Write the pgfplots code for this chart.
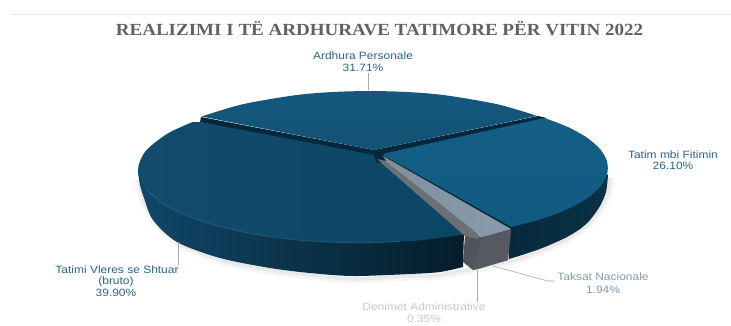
\documentclass[border=0pt]{standalone}
\usepackage{pgfplots}
\pgfplotsset{compat=1.18}
\usepackage{fontspec}
\setmainfont{Liberation Sans}
\newfontfamily\titlefont{Liberation Serif}
\definecolor{band}{HTML}{07283C}
\definecolor{labelblue}{HTML}{2A6485}
\definecolor{labelgrey}{HTML}{8499AD}
\definecolor{labelpale}{HTML}{C6C8CB}
\definecolor{leader}{HTML}{A8A8A8}
\definecolor{sideRa}{HTML}{07293C}
\definecolor{sideRb}{HTML}{0A3148}
\definecolor{sideLa}{HTML}{104767}
\definecolor{sideLb}{HTML}{06293D}
\definecolor{sideLc}{HTML}{041D2B}
\definecolor{topA}{HTML}{14587E}
\definecolor{topB}{HTML}{135274}
\definecolor{rightA}{HTML}{135F87}
\definecolor{rightB}{HTML}{115A80}
\definecolor{leftA}{HTML}{114B6D}
\definecolor{leftB}{HTML}{0B4666}
\definecolor{greyA}{HTML}{51545B}
\definecolor{greyB}{HTML}{565960}
\definecolor{greyC}{HTML}{6B6F76}
\definecolor{greyD}{HTML}{7F8FA0}
\definecolor{greyE}{HTML}{8A9BAC}
\definecolor{greyF}{HTML}{A3AEB8}
\newcommand{\lab}[4]{\node[text=#1,inner sep=0pt,font=\fontsize{10.6}{12}\selectfont] at (axis cs:#2,#3) {\scalebox{1.13}[1]{#4}};}
\begin{document}
\begin{tikzpicture}
\path[use as bounding box] (0,0) rectangle (731pt,325pt);
\begin{axis}[
  at={(0,0)}, anchor=south west,
  scale only axis, width=731pt, height=325pt,
  xmin=0, xmax=731, ymin=0, ymax=325, y dir=reverse,
  axis lines=none, clip=false, no markers,
]
% page rule
\addplot[color=black!9, line width=0.7pt] coordinates {(11,14.5) (731,14.5)};

% soft shadow round the base of the pie
\addplot[smooth, draw=black, opacity=0.035, line width=7pt] coordinates {
  (137,180) (146,207) (160,228) (183,246) (220,261) (270,271) (310,276) (353,280)
  (410,277) (440,276) (510,262) (537,253) (567,240) (590,223) (606,200) (612,178)};
\addplot[smooth, draw=black, opacity=0.05, line width=3.5pt] coordinates {
  (139,180) (146,205) (160,227) (183,245) (220,260) (270,270) (310,275) (353,279)
  (410,276) (440,275) (510,261) (537,252) (567,239) (590,222) (606,198) (610,178)};

% gaps between the slices
\addplot[fill=band, draw=none] coordinates {
  (201,117) (374,150) (538,116) (547,118) (383,155) (382,160) (375,160) (200,122)} -- cycle;

% sides of the slices
\addplot[smooth, draw=none, left color=sideRa, right color=sideRb] coordinates {
  (608,175) (606,192) (600,206) (590,220) (580,229) (567,237) (552,244) (537,250) (522,255) (509,259)}
  -- (axis cs:509,226) -- (axis cs:600,170) -- cycle;
\addplot[smooth, draw=none, left color=sideLa, middle color=sideLb, right color=sideLc] coordinates {
  (138,172) (140,185) (144,198) (153,220) (177,242) (220,258) (270,268) (310,273) (353,276)
  (410,274) (440,272) (463,267)}
  -- (axis cs:464,232) -- (axis cs:150,165) -- cycle;

% upper faces
\addplot[smooth, draw=none, top color=topA, bottom color=topB] coordinates {
  (201.6,116.5) (242,104.4) (293.7,95.4) (331.2,92.1) (370,91) (408.8,92.1) (446.3,95.4) (498,104.4) (537,115.9)}
  -- (axis cs:374,150) -- cycle;
\addplot[smooth, draw=none, top color=rightA, bottom color=rightB] coordinates {
  (544.6,118) (567.1,126.7) (586.8,137.5) (600.3,149.4) (607.1,161.7) (607.1,174.3)
  (600.3,186.6) (586.8,198.5) (567.1,209.3) (541.8,218.9) (509.9,227.3)}
  -- (axis cs:382,154) -- cycle;
\addplot[smooth, draw=none, left color=leftA, right color=leftB] coordinates {
  (464.1,234.5) (417.5,240.5) (360,243) (302.5,240.5) (249,233.2) (203,221.6) (167.7,206.5)
  (145.6,188.9) (138,170) (145.6,151.1) (167.7,133.5) (192.4,122.1)}
  -- (axis cs:200,122) -- (axis cs:374,155) -- (axis cs:376,158) -- cycle;

% highlight along the rim of the largest slice
\addplot[smooth, draw=white, opacity=0.1, line width=0.9pt] coordinates {
  (145.6,188.9) (167.7,206.5) (203,221.6) (249,233.2) (302.5,240.5) (360,243) (400,241.5)};

% dark line above the grey slices, and the dark tip where the slices meet
\addplot[fill=band, draw=none] coordinates {(380,153) (511,227) (511,231) (382,157)} -- cycle;
\addplot[fill=band, draw=none] coordinates {(372,151) (382,153) (387,161) (377,163)} -- cycle;

% the two small slices
\addplot[fill=greyA, draw=none] coordinates {(465,235) (511,229) (508,260) (473,270) (463,262)} -- cycle;
\addplot[fill=greyB, draw=none] coordinates {(481,237) (511,229) (508,260) (478,269) (473,270)} -- cycle;
\addplot[fill=greyC, draw=none] coordinates {(377,159) (386,161) (482,236) (477,239) (465,236)} -- cycle;
\addplot[draw=none, left color=greyD, right color=greyE] coordinates {(383,156) (511,229) (482,237) (386,161)} -- cycle;
\addplot[color=greyF, line width=0.7pt] coordinates {(475,231) (481,237)};

% leader lines
\addplot[color=leader, line width=0.6pt] coordinates {(368,73) (368,90)};
\addplot[color=leader, line width=0.6pt] coordinates {(178,242) (178,265)};
\addplot[color=leader, line width=0.6pt] coordinates {(493,266) (548,281) (555,281)};
\addplot[color=leader, line width=0.6pt] coordinates {(477,270) (477,302)};

% title and slice labels
\node[text=black!62, inner sep=0pt] at (axis cs:379.5,29) {\scalebox{1.12}[1]{\titlefont\bfseries\fontsize{17}{19}\selectfont REALIZIMI I TË ARDHURAVE TATIMORE PËR VITIN 2022}};
\lab{labelblue}{363}{56}{Ardhura Personale}
\lab{labelblue}{363}{68}{31.71\%}
\lab{labelblue}{673}{154.5}{Tatim mbi Fitimin}
\lab{labelblue}{673}{166}{26.10\%}
\lab{labelblue}{117}{269.5}{Tatimi Vleres se Shtuar}
\lab{labelblue}{116}{281.5}{(bruto)}
\lab{labelblue}{116}{293}{39.90\%}
\lab{labelgrey}{603}{277}{Taksat Nacionale}
\lab{labelgrey}{603}{289.5}{1.94\%}
\lab{labelpale}{424}{307}{Denimet Administrative}
\lab{labelpale}{424}{318.5}{0.35\%}
\end{axis}
\end{tikzpicture}
\end{document}
